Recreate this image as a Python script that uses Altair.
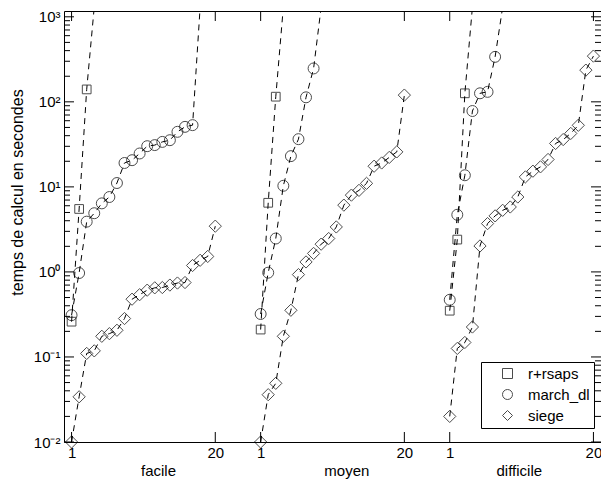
import altair as alt
import pandas as pd

# ---------------- data ----------------
series_names = ["r+rsaps", "march_dl", "siege"]
series_shapes = ["square", "circle", "diamond"]
series_sizes = [76, 120, 150]

groups = ["facile", "moyen", "difficile"]
group_offsets = [0, 25, 50]
group_label_pos = [12.5, 37.4, 60.2]

TIMEOUT = 1300  # unsolved instances, above the visible range

rsaps_facile = [0.26, 5.5, 140]
rsaps_moyen = [0.21, 6.5, 115]
rsaps_difficile = [0.35, 2.4, 126]

march_facile = [0.31, 0.97, 3.9, 4.9, 6.4, 7.6, 11.1, 19.1, 20.6, 24.7, 30.1,
                31, 33.8, 35.4, 44.4, 50.8, 53.2]
march_moyen = [0.32, 0.98, 2.47, 10.3, 23, 36.4, 113, 247]
march_difficile = [0.47, 4.7, 13.7, 78, 126, 131, 338]

siege_facile = [0.01, 0.034, 0.11, 0.118, 0.175, 0.188, 0.206, 0.283, 0.478, 0.54,
                0.61, 0.65, 0.655, 0.70, 0.74, 0.75, 1.19, 1.37, 1.52, 3.45]
siege_moyen = [0.01, 0.036, 0.049, 0.175, 0.354, 0.93, 1.31, 1.65, 2.12, 2.47,
               3.38, 6.1, 8.0, 9.1, 11.0, 17.5, 19.1, 22.2, 25.8, 120]
siege_difficile = [0.020, 0.126, 0.148, 0.225, 2.02, 3.7, 4.56, 5.3, 5.8, 7.6,
                   13.1, 15.3, 17.2, 21, 32.4, 36, 42.5, 53, 236, 345]

n_instances = 20

x_tick_values = [1, 20, 26, 45, 51, 70]
x_tick_labels = ["1", "20", "1", "20", "1", "20"]
y_major = [0.01, 0.1, 1, 10, 100, 1000]
y_major_labels = ["10⁻²", "10⁻¹", "10⁰", "10¹", "10²", "10³"]
y_minor = [m * 10.0 ** k for k in range(-2, 3) for m in range(2, 10)]

# ---------------- tables ----------------
all_series = {
    "r+rsaps": [rsaps_facile, rsaps_moyen, rsaps_difficile],
    "march_dl": [march_facile, march_moyen, march_difficile],
    "siege": [siege_facile, siege_moyen, siege_difficile],
}

pts, lines = [], []
for s in series_names:
    for g, off, vals in zip(groups, group_offsets, all_series[s]):
        for i, v in enumerate(vals):
            row = {"series": s, "group": g, "idx": off + i + 1, "t": v, "lid": s + g}
            pts.append(row)
            lines.append(row)
        if len(vals) < n_instances:
            lines.append({"series": s, "group": g, "idx": off + len(vals) + 1,
                          "t": TIMEOUT, "lid": s + g})

df_pts = pd.DataFrame(pts)
df_lines = pd.DataFrame(lines)
df_lab = pd.DataFrame({"name": groups, "pos": group_label_pos})
df_ymaj = pd.DataFrame({"t": y_major})
df_ymin = pd.DataFrame({"t": y_minor})
df_xt = pd.DataFrame({"idx": x_tick_values})

W, H = 537, 431
FONT = "Liberation Sans"
FS = 15
MAJ, MIN = 10, 6

xscale = alt.Scale(domain=[0, 71], nice=False, zero=False)
yscale = alt.Scale(type="log", domain=[0.01, 1170], nice=False)
shape_scale = alt.Scale(domain=series_names, range=series_shapes)

y_label_expr = "{}[indexof({}, datum.value)]".format(
    "[" + ",".join("'%s'" % l for l in y_major_labels) + "]",
    "[" + ",".join(repr(v) for v in y_major) + "]")
x_label_expr = "{}[indexof({}, datum.value)]".format(
    "[" + ",".join("'%s'" % l for l in x_tick_labels) + "]",
    "[" + ",".join(str(v) for v in x_tick_values) + "]")

# lines: host of the labelled axes
line_layer = alt.Chart(df_lines).mark_line(
    color="black", strokeWidth=1, strokeDash=[6, 5], clip=True
).encode(
    x=alt.X("idx:Q", scale=xscale, axis=alt.Axis(
        orient="bottom", values=x_tick_values, labelExpr=x_label_expr,
        ticks=False, domain=False, grid=False, labelPadding=3, title=None)),
    y=alt.Y("t:Q", scale=yscale, axis=alt.Axis(
        orient="left", values=y_major, labelExpr=y_label_expr,
        ticks=False, domain=False, grid=False, labelPadding=4,
        title="temps de calcul en secondes", titleFontSize=16, titleFont=FONT,
        titleFontWeight="normal", titleX=-47, titleY=181, titleBaseline="middle",
        titleAngle=270)),
    detail="lid:N",
    order="idx:Q",
)

# one point layer per series (each with its own marker size)
point_layers = []
for s, sz in zip(series_names, series_sizes):
    point_layers.append(
        alt.Chart(df_pts[df_pts["series"] == s]).mark_point(
            filled=False, color="black", strokeWidth=1, size=sz
        ).encode(
            x=alt.X("idx:Q", scale=xscale, axis=None),
            y=alt.Y("t:Q", scale=yscale, axis=None),
            shape=alt.Shape("series:N", scale=shape_scale,
                            legend=alt.Legend(title=None, orient="none",
                                              legendX=417, legendY=351)),
        )
    )

# tick marks drawn inside the frame
def yticks(df, x0, x1):
    return alt.Chart(df).mark_rule(color="black", strokeWidth=1).encode(
        y=alt.Y("t:Q", scale=yscale, axis=None),
        x=alt.value(x0), x2=alt.value(x1))

def xticks(y0, y1):
    return alt.Chart(df_xt).mark_rule(color="black", strokeWidth=1).encode(
        x=alt.X("idx:Q", scale=xscale, axis=None),
        y=alt.value(y0), y2=alt.value(y1))

tick_layers = [
    yticks(df_ymaj, 0, MAJ), yticks(df_ymin, 0, MIN),
    yticks(df_ymaj, W - MAJ, W), yticks(df_ymin, W - MIN, W),
    xticks(H - MAJ, H), xticks(0, MAJ),
]

labels = alt.Chart(df_lab).mark_text(
    font=FONT, fontSize=FS, color="black", baseline="middle", align="center"
).encode(
    x=alt.X("pos:Q", scale=xscale, axis=None),
    y=alt.value(460),
    text="name:N",
)

chart = alt.layer(line_layer, *tick_layers, *point_layers, labels).resolve_axis(
    x="independent", y="independent"
).properties(
    width=W, height=H,
    autosize=alt.AutoSizeParams(type="none"),
    padding={"left": 56, "top": 3, "right": 0, "bottom": 40},
    background="white",
).configure_view(
    stroke="black", strokeWidth=1
).configure_axis(
    labelFont=FONT, labelFontSize=FS, labelColor="black"
).configure_legend(
    strokeColor="black", fillColor="white", padding=4,
    labelFont=FONT, labelFontSize=FS, labelColor="black",
    symbolSize=100, symbolStrokeColor="black", symbolStrokeWidth=1,
    symbolFillColor="white", symbolOffset=15, labelOffset=13,
    rowPadding=5, cornerRadius=0
)

chart.save("out.html", embed_options={"renderer": "svg", "actions": False})
